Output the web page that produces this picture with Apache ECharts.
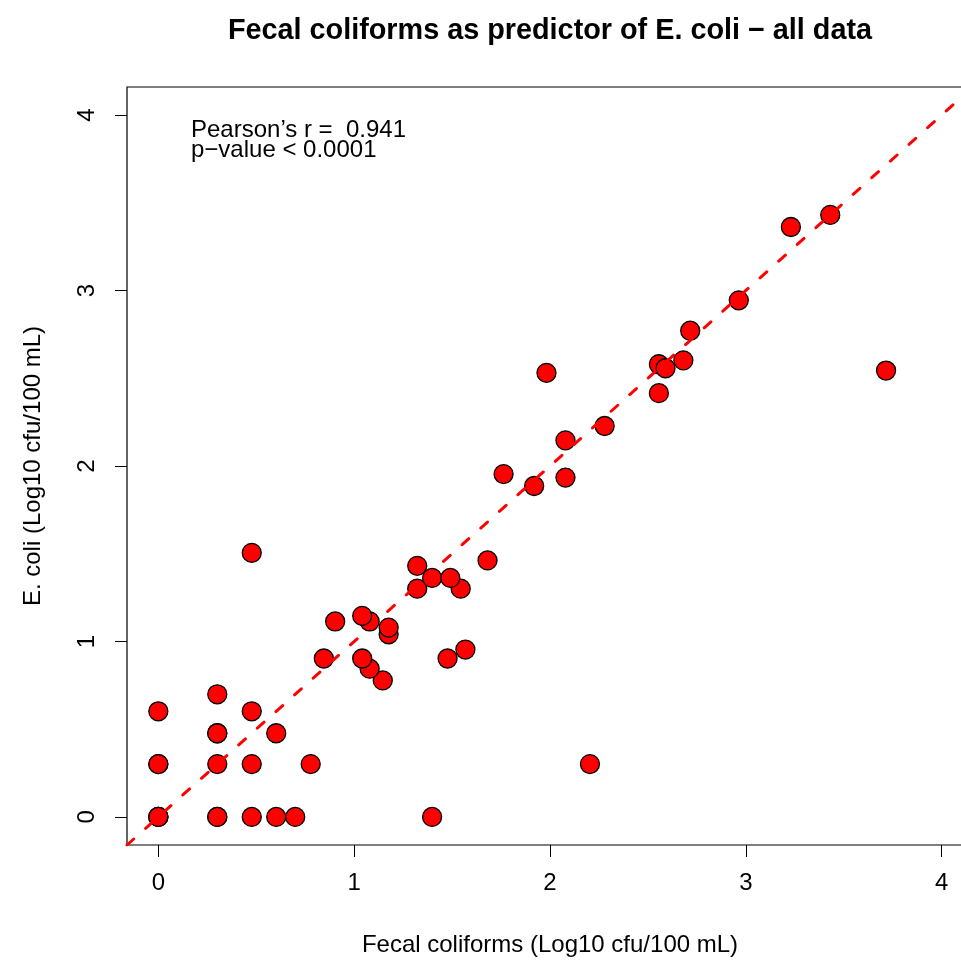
<!DOCTYPE html>
<html>
<head>
<meta charset="utf-8">
<script src="https://cdn.jsdelivr.net/npm/echarts@6/dist/echarts.min.js"></script>
<style>
html,body{margin:0;padding:0;background:#fff;}
#c{width:961px;height:962px;}
</style>
</head>
<body>
<div id="c"></div>
<script>
// Fecal coliforms (log10 cfu/100 mL)
var fecal = [0, 0, 0, 0.301, 0.301, 0.477, 0.602, 0.699, 1.398,
  0, 0, 0.301, 0.477, 0.778, 2.204,
  0.301, 0.301, 0.602,
  0, 0.477, 0.301,
  1.146, 1.079, 0.845, 1.041, 1.477, 1.568,
  1.176, 1.176, 0.903, 1.079, 1.041,
  1.322, 1.544, 1.398, 1.491, 1.322, 1.681, 0.477,
  1.763, 1.919, 2.079, 2.079, 2.279, 1.982,
  2.556, 2.556, 2.590, 2.681, 2.716, 2.964, 3.230, 3.431, 3.716];
// E. coli (log10 cfu/100 mL)
var ecoli = [0, 0, 0, 0, 0, 0, 0, 0, 0,
  0.301, 0.301, 0.301, 0.301, 0.301, 0.301,
  0.477, 0.477, 0.477,
  0.602, 0.602, 0.699,
  0.778, 0.845, 0.903, 0.903, 0.903, 0.954,
  1.041, 1.079, 1.114, 1.114, 1.146,
  1.301, 1.301, 1.362, 1.362, 1.431, 1.462, 1.505,
  1.954, 1.886, 1.934, 2.146, 2.228, 2.531,
  2.415, 2.580, 2.557, 2.602, 2.771, 2.944, 3.362, 3.431, 2.544];
var ticks = [0, 1, 2, 3, 4];
var axisMin = -0.16, axisMax = 4.16;
var oneToOne = [[axisMin, axisMin], [axisMax, axisMax]];

var titleText = 'Fecal coliforms as predictor of E. coli \u2212 all data';
var xTitle = 'Fecal coliforms (Log10 cfu/100 mL)';
var yTitle = 'E. coli (Log10 cfu/100 mL)';
var note1 = 'Pearson\u2019s r =  0.941';
var note2 = 'p\u2212value < 0.0001';

var pts = fecal.map(function (x, i) { return [x, ecoli[i]]; });
var FF = '"Liberation Sans", Arial, Helvetica, sans-serif';

var chart = echarts.init(document.getElementById('c'));
chart.setOption({
  animation: false,
  backgroundColor: '#fff',
  grid: { left: 127, top: 87, right: -12, bottom: 117, show: true,
          outerBoundsMode: 'none', containLabel: false,
          borderColor: '#000', borderWidth: 1.2, backgroundColor: 'transparent' },
  xAxis: {
    type: 'value', min: axisMin, max: axisMax, position: 'bottom',
    axisLine: { show: false, onZero: false },
    splitLine: { show: false },
    axisTick: { show: true, inside: false, length: 12, lineStyle: { color: '#000', width: 1 }, customValues: ticks },
    axisLabel: { show: true, margin: 26, color: '#000', fontSize: 24, fontFamily: FF, customValues: ticks }
  },
  yAxis: {
    type: 'value', min: axisMin, max: axisMax, position: 'left',
    axisLine: { show: false, onZero: false },
    splitLine: { show: false },
    axisTick: { show: true, inside: false, length: 12, lineStyle: { color: '#000', width: 1 }, customValues: ticks },
    axisLabel: { show: true, margin: 28, rotate: 90, color: '#000', fontSize: 24, fontFamily: FF, customValues: ticks }
  },
  series: [
    {
      type: 'scatter', data: pts, symbol: 'circle', symbolSize: 19,
      itemStyle: { color: '#ff0000', borderColor: '#000', borderWidth: 1.3, opacity: 1 },
      z: 2
    },
    {
      type: 'line', data: oneToOne, symbol: 'none', z: 3, clip: true,
      lineStyle: { color: '#ff0000', width: 3, type: [9, 16], cap: 'round' }
    }
  ],
  graphic: [
    { type: 'text', x: 550, y: 31, style: { text: titleText, fontSize: 28.8, fontWeight: 'bold', fontFamily: FF, fill: '#000', align: 'center', verticalAlign: 'middle' } },
    { type: 'text', x: 550, y: 945, style: { text: xTitle, fontSize: 24, fontFamily: FF, fill: '#000', align: 'center', verticalAlign: 'middle' } },
    { type: 'text', x: 33, y: 466, rotation: Math.PI / 2, style: { text: yTitle, fontSize: 24, fontFamily: FF, fill: '#000', align: 'center', verticalAlign: 'middle' } },
    { type: 'text', x: 191, y: 130, style: { text: note1, fontSize: 24, fontFamily: FF, fill: '#000', align: 'left', verticalAlign: 'middle' } },
    { type: 'text', x: 191, y: 150, style: { text: note2, fontSize: 24, fontFamily: FF, fill: '#000', align: 'left', verticalAlign: 'middle' } }
  ]
});
</script>
</body>
</html>
